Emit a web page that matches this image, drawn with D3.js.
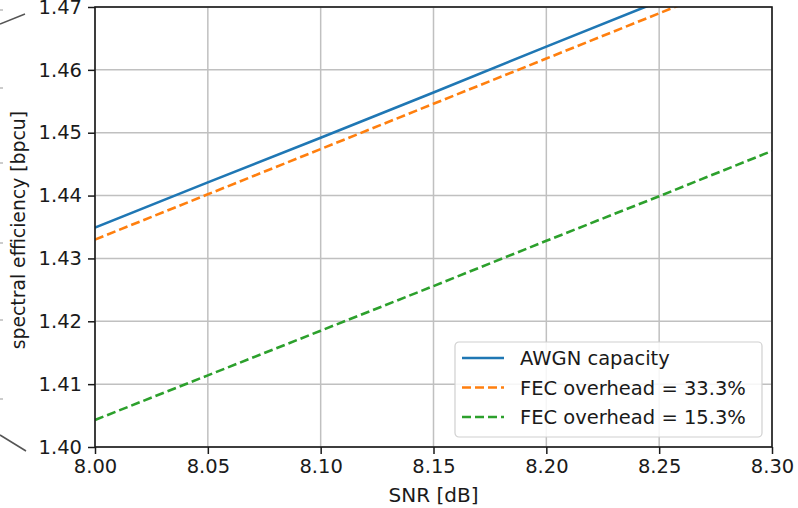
<!DOCTYPE html>
<html>
<head>
<meta charset="utf-8">
<script src="https://cdn.jsdelivr.net/npm/d3@7"></script>
<style>
  body { margin: 0; background: #fff; }
  svg text { font-family: "DejaVu Sans", sans-serif; fill: #1a1a1a; }
</style>
</head>
<body>
<div id="chart"></div>
<script>
// values
var snr = [8.00, 8.05, 8.10, 8.15, 8.20, 8.25, 8.30]
var awgn = [1.4349, 1.4421, 1.4492, 1.4564, 1.4637, 1.4709, 1.4781]
var fec333 = [1.4330, 1.4402, 1.4474, 1.4546, 1.4618, 1.4690, 1.4762]
var fec153 = [1.4043, 1.4114, 1.4185, 1.4256, 1.4328, 1.4399, 1.4471]

var xTicks = [8.00, 8.05, 8.10, 8.15, 8.20, 8.25, 8.30]
var yTicks = [1.40, 1.41, 1.42, 1.43, 1.44, 1.45, 1.46, 1.47]

var series = [
  {label: "AWGN capacity", values: awgn, color: "#1f77b4", dash: null},
  {label: "FEC overhead = 33.3%", values: fec333, color: "#ff7f0e", dash: "9,4"},
  {label: "FEC overhead = 15.3%", values: fec153, color: "#2ca02c", dash: "9,4"}
]

var width = 798, height = 508
var margin = {left: 95, right: 26, top: 7, bottom: 61}

var svg = d3.select("#chart").append("svg")
    .attr("width", width)
    .attr("height", height)

var x = d3.scaleLinear().domain([8.00, 8.30]).range([margin.left, width - margin.right])
var y = d3.scaleLinear().domain([1.40, 1.47]).range([height - margin.bottom, margin.top])

// bits of the parent figure poking in at the left edge
var edge = svg.append("g").attr("stroke", "#555").attr("stroke-width", 1.5)
edge.append("line").attr("x1", 0).attr("y1", 24).attr("x2", 25).attr("y2", 14)
edge.append("line").attr("x1", 0).attr("y1", 435).attr("x2", 26).attr("y2", 451)
svg.append("g").selectAll("line")
    .data([10, 88, 163, 243, 320, 399])
    .enter().append("line")
    .attr("x1", 0).attr("x2", 3)
    .attr("y1", d => d).attr("y2", d => d)
    .attr("stroke", "#bbb").attr("stroke-width", 1.5)

// grid
svg.append("g").selectAll("line")
    .data(xTicks)
    .enter().append("line")
    .attr("x1", d => x(d)).attr("x2", d => x(d))
    .attr("y1", y(1.40)).attr("y2", y(1.47))
    .attr("stroke", "#c0c0c0").attr("stroke-width", 1.5)

svg.append("g").selectAll("line")
    .data(yTicks)
    .enter().append("line")
    .attr("x1", x(8.00)).attr("x2", x(8.30))
    .attr("y1", d => y(d)).attr("y2", d => y(d))
    .attr("stroke", "#c0c0c0").attr("stroke-width", 1.5)

svg.append("clipPath").attr("id", "clip")
  .append("rect")
    .attr("x", x(8.00)).attr("y", y(1.47))
    .attr("width", x(8.30) - x(8.00))
    .attr("height", y(1.40) - y(1.47))

var line = d3.line()
    .x((d, i) => x(snr[i]))
    .y(d => y(d))

svg.append("g").attr("clip-path", "url(#clip)")
  .selectAll("path")
    .data(series)
    .enter().append("path")
    .attr("d", d => line(d.values))
    .attr("fill", "none")
    .attr("stroke", d => d.color)
    .attr("stroke-width", 2.6)
    .attr("stroke-dasharray", d => d.dash)

// axes
var xAxis = svg.append("g")
    .attr("transform", `translate(0,${y(1.40)})`)
    .call(d3.axisBottom(x).tickValues(xTicks).tickFormat(d3.format(".2f")).tickSizeOuter(0).tickSize(7).tickPadding(5))

var yAxis = svg.append("g")
    .attr("transform", `translate(${x(8.00)},0)`)
    .call(d3.axisLeft(y).tickValues(yTicks).tickFormat(d3.format(".2f")).tickSizeOuter(0).tickSize(7).tickPadding(6))

svg.selectAll(".domain").remove()
svg.selectAll(".tick line").attr("stroke", "#1a1a1a").attr("stroke-width", 1.5)
svg.selectAll(".tick text").attr("font-size", 19.5).attr("fill", "#1a1a1a")
    .style("font-family", "DejaVu Sans")

// frame
svg.append("rect")
    .attr("x", x(8.00)).attr("y", y(1.47))
    .attr("width", x(8.30) - x(8.00))
    .attr("height", y(1.40) - y(1.47))
    .attr("fill", "none")
    .attr("stroke", "#1a1a1a")
    .attr("stroke-width", 1.6)

// axis labels
svg.append("text")
    .attr("x", (x(8.00) + x(8.30)) / 2)
    .attr("y", 502)
    .attr("text-anchor", "middle")
    .attr("font-size", 20)
    .text("SNR [dB]")

svg.append("text")
    .attr("transform", `translate(25,${y(1.4345)}) rotate(-90)`)
    .attr("text-anchor", "middle")
    .attr("font-size", 18.8)
    .text("spectral efficiency [bpcu]")

// legend
var legend = svg.append("g").attr("transform", "translate(455,342)")
legend.append("rect")
    .attr("width", 307).attr("height", 95)
    .attr("rx", 4)
    .attr("fill", "#fff").attr("fill-opacity", 0.85)
    .attr("stroke", "#d0d0d0").attr("stroke-width", 1.2)

var item = legend.selectAll(".item")
    .data(series)
    .enter().append("g")
    .attr("transform", (d, i) => `translate(0,${16 + i * 29.5})`)

item.append("line")
    .attr("x1", 7).attr("x2", 49)
    .attr("stroke", d => d.color)
    .attr("stroke-width", 2.6)
    .attr("stroke-dasharray", d => d.dash)

item.append("text")
    .attr("x", 65).attr("y", 7)
    .attr("font-size", 19.5)
    .text(d => d.label)
</script>
</body>
</html>
